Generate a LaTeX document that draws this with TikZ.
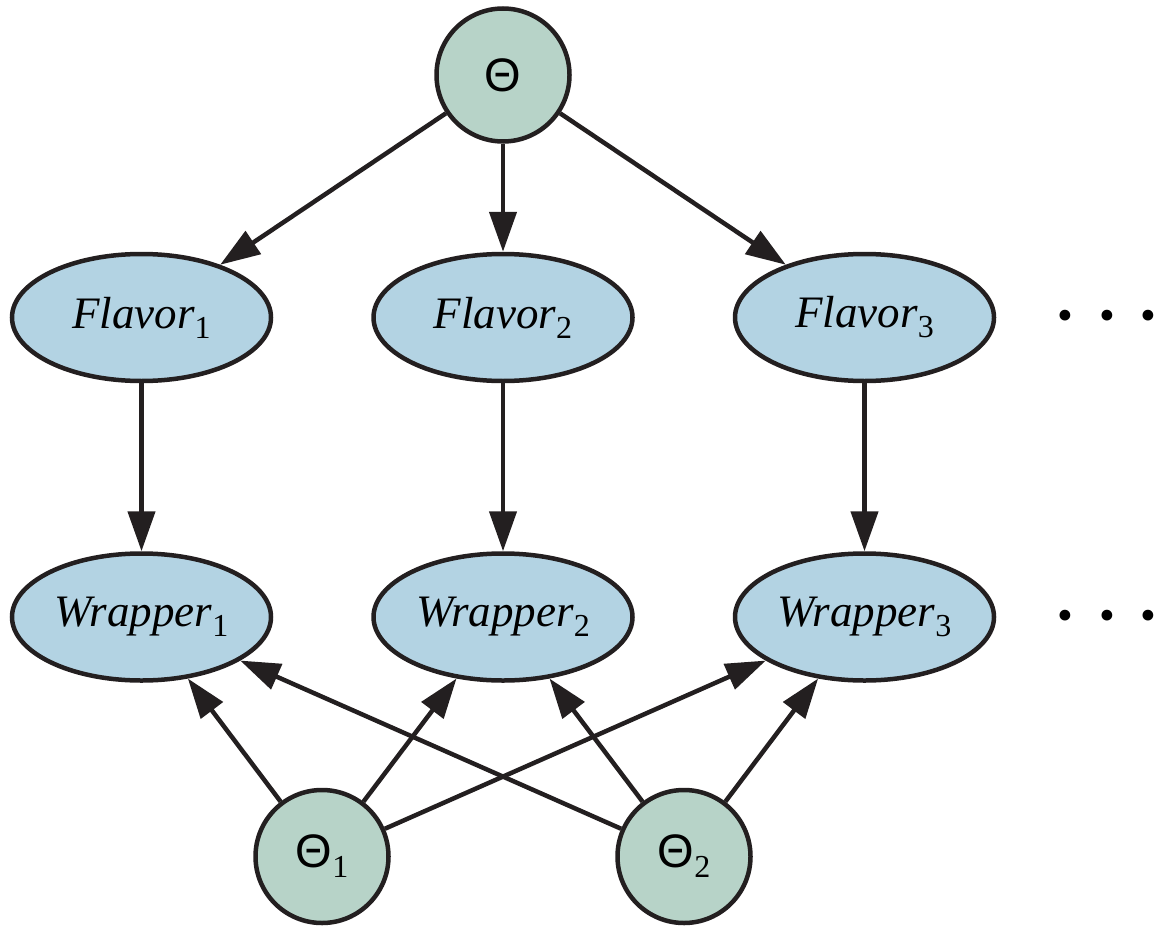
\documentclass[tikz,border=0pt]{standalone}
\usepackage{fontspec}
\setmainfont{Liberation Serif}
\newfontfamily\thetafont{Liberation Sans}
\usepackage{tikz}
\usetikzlibrary{arrows.meta,positioning,shapes.geometric}
\definecolor{paramgreen}{HTML}{B7D3C8}
\definecolor{varblue}{HTML}{B3D3E3}
\definecolor{edgeblack}{HTML}{231F20}
\newcommand{\idx}[1]{\raisebox{-10pt}{\fontsize{32}{32}\selectfont\upshape #1}}
\newcommand{\thetasym}{{\thetafont\fontsize{47}{47}\selectfont\symbol{"0398}}}

\begin{document}
\begin{tikzpicture}[
      x=1pt, y=-1pt,
      param/.style={circle, draw=edgeblack, line width=4.5pt, fill=paramgreen,
                    minimum size=133pt, inner sep=0pt, outer sep=2.25pt},
      var/.style={ellipse, draw=edgeblack, line width=4.5pt, fill=varblue,
                  minimum width=259pt, minimum height=127pt, inner sep=0pt, outer sep=2.25pt,
                  font=\fontsize{45}{45}\selectfont\itshape},
      more/.style={font=\fontsize{45}{45}\selectfont, inner sep=0pt},
      arrow/.style={-{Triangle[length=40pt,width=27pt]}, line width=4.5pt, draw=edgeblack}
    ]
    \useasboundingbox (0,0) rectangle (1158,928);
    \node[param] (theta) at (503,75) {\thetasym};
    \node[var, below=108pt of theta] (flavor2) {Flavor\idx{2}};
    \node[var, left=98pt of flavor2] (flavor1) {Flavor\idx{1}};
    \node[var, right=98pt of flavor2] (flavor3) {Flavor\idx{3}};
    \node[var, below=168pt of flavor2] (wrapper2) {Wrapper\idx{2}};
    \node[var, left=98pt of wrapper2] (wrapper1) {Wrapper\idx{1}};
    \node[var, right=98pt of wrapper2] (wrapper3) {Wrapper\idx{3}};
    \node[param, below=105pt of wrapper2, xshift=-181pt] (theta1) {\thetasym\idx{1}};
    \node[param, below=105pt of wrapper2, xshift=181pt] (theta2) {\thetasym\idx{2}};
    \node[more] (moreflavors) at (1107,320) {•\hspace{26pt}•\hspace{26pt}•};
    \node[more] (morewrappers) at (1107,620) {•\hspace{26pt}•\hspace{26pt}•};
    \draw[arrow] (theta) -- (flavor1);
    \draw[arrow] (theta) -- (flavor2);
    \draw[arrow] (theta) -- (flavor3);
    \draw[arrow] (flavor1) -- (wrapper1);
    \draw[arrow] (flavor2) -- (wrapper2);
    \draw[arrow] (flavor3) -- (wrapper3);
    \draw[arrow] (theta1) -- (wrapper1);
    \draw[arrow] (theta1) -- (wrapper2);
    \draw[arrow] (theta1) -- (wrapper3);
    \draw[arrow] (theta2) -- (wrapper1);
    \draw[arrow] (theta2) -- (wrapper2);
    \draw[arrow] (theta2) -- (wrapper3);
  \end{tikzpicture}
\end{document}
